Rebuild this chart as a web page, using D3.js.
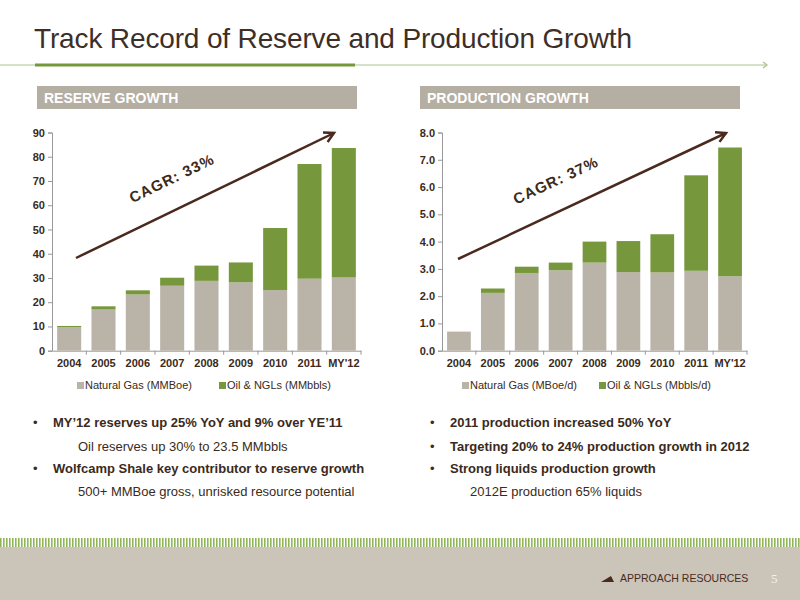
<!DOCTYPE html><html><head><meta charset="utf-8"><script src="https://cdn.jsdelivr.net/npm/d3@7"></script>
<style>body{margin:0}svg{font-family:"Liberation Sans",Arial,sans-serif}</style></head><body><svg id="s" width="800" height="600"></svg>
<script>
const years=["2004","2005","2006","2007","2008","2009","2010","2011","MY'12"];
const resGas=[9.7,17,23.2,26.8,28.8,28.2,25,29.7,30.2];
const resOil=[0.5,1.3,1.7,3.3,6.3,8.2,25.6,47.3,53.4];
const prodGas=[0.7,2.12,2.85,2.95,3.23,2.88,2.87,2.93,2.73];
const prodOil=[0,0.16,0.23,0.28,0.77,1.14,1.4,3.5,4.72];
const resTicks=[0,10,20,30,40,50,60,70,80,90];
const prodTicks=[0,1,2,3,4,5,6,7,8];
const svg=d3.select("#s");
const GAS="#bab3a8",OIL="#77973c",TXT="#3a2a20";
svg.append("rect").attr("width",800).attr("height",600).attr("fill","#fff");
svg.append("text").attr("x",34).attr("y",48).attr("font-size",28).attr("fill","#3d2f28").attr("textLength",598).text("Track Record of Reserve and Production Growth");
svg.append("line").attr("x1",0).attr("x2",766).attr("y1",65).attr("y2",65).attr("stroke","#a9c48a").attr("stroke-width",1);
svg.append("line").attr("x1",35).attr("x2",355).attr("y1",65).attr("y2",65).attr("stroke","#77973c").attr("stroke-width",3);
svg.append("path").attr("d","M763,62L767,65L763,68").attr("fill","none").attr("stroke","#a9c48a").attr("stroke-width",1.2);
[[37,"RESERVE GROWTH"],[420,"PRODUCTION GROWTH"]].forEach(([x,t])=>{
 svg.append("rect").attr("x",x).attr("y",86).attr("width",320).attr("height",23).attr("fill","#b5aea3");
 svg.append("text").attr("x",x+7).attr("y",103).attr("fill","#fff").attr("font-weight","bold").attr("font-size",14).text(t);
});
function chart(x0,x1,max,ticks,fmt,gas,oil,legs,arrow,cagr){
 const y=d3.scaleLinear().domain([0,max]).range([350.7,132.5]);
 const x=d3.scaleBand().domain(years).range([x0,x1]).paddingInner(0.3).paddingOuter(0.15);
 const g=svg.append("g");
 const ya=g.append("g").attr("transform",`translate(${x0},0)`).call(d3.axisLeft(y).tickValues(ticks).tickFormat(fmt).tickSize(4));
 const xa=g.append("g").attr("transform","translate(0,350.7)").call(d3.axisBottom(x).tickSize(0).tickPadding(9));
 [ya,xa].forEach(a=>{a.selectAll("path,line").attr("stroke","#999");a.selectAll("text").attr("font-size",11).attr("font-weight","bold").attr("fill",TXT).attr("font-family","Liberation Sans,Arial")});
 xa.selectAll(".tick").append("line").attr("x1",x.step()/2).attr("x2",x.step()/2).attr("y2",4).attr("stroke","#999");
 g.selectAll(".g").data(years).join("rect").attr("x",d=>x(d)).attr("width",x.bandwidth()).attr("y",(d,i)=>y(gas[i])).attr("height",(d,i)=>y(0)-y(gas[i])).attr("fill",GAS);
 g.selectAll(".o").data(years).join("rect").attr("x",d=>x(d)).attr("width",x.bandwidth()).attr("y",(d,i)=>y(gas[i]+oil[i])).attr("height",(d,i)=>y(gas[i])-y(gas[i]+oil[i])).attr("fill",OIL);
 const [ax1,ay1,ax2,ay2]=arrow;
 g.append("line").attr("x1",ax1).attr("y1",ay1).attr("x2",ax2).attr("y2",ay2).attr("stroke","#4a2a1e").attr("stroke-width",2.5);
 const ang=Math.atan2(ay2-ay1,ax2-ax1);
 const p=a=>[ax2-11*Math.cos(ang+a),ay2-11*Math.sin(ang+a)];
 g.append("path").attr("d",`M${p(0.5)}L${ax2},${ay2}L${p(-0.5)}`).attr("fill","none").attr("stroke","#4a2a1e").attr("stroke-width",2.5);
 g.append("text").attr("transform",`translate(${cagr[0]},${cagr[1]}) rotate(${ang*180/Math.PI})`).attr("text-anchor","middle").attr("font-size",15).attr("font-weight","bold").attr("fill","#3a2a20").attr("letter-spacing",1).text(cagr[2]);
 legs.forEach(([lx,t],i)=>{
  g.append("rect").attr("x",lx).attr("y",382).attr("width",7).attr("height",7).attr("fill",i?OIL:GAS);
  g.append("text").attr("x",lx+8).attr("y",389).attr("font-size",11).attr("fill",TXT).text(t);
 });
}
chart(52,361,90,resTicks,d3.format("d"),resGas,resOil,[[77,"Natural Gas (MMBoe)"],[219,"Oil & NGLs (MMbbls)"]],[76,258,334,133],[174,183,"CAGR: 33%"]);
chart(442,747,8,prodTicks,d3.format(".1f"),prodGas,prodOil,[[462,"Natural Gas (MBoe/d)"],[599,"Oil & NGLs (Mbbls/d)"]],[458,259,726,133],[558,185,"CAGR: 37%"]);
const bl=[[33,427,true,"MY’12 reserves up 25% YoY and 9% over YE’11"],[78,451,false,"Oil reserves up 30% to 23.5 MMbbls"],[33,473,true,"Wolfcamp Shale key contributor to reserve growth"],[78,496,false,"500+ MMBoe gross, unrisked resource potential"],
[430,427,true,"2011 production increased 50% YoY"],[430,451,true,"Targeting 20% to 24% production growth in 2012"],[430,473,true,"Strong liquids production growth"],[470,496,false,"2012E production 65% liquids"]];
bl.forEach(([x,y,b,t])=>{
 if(b)svg.append("text").attr("x",x).attr("y",y).attr("font-size",13).attr("fill",TXT).text("•");
 svg.append("text").attr("x",b?x+20:x).attr("y",y).attr("font-size",13).attr("font-weight",b?"bold":"normal").attr("fill",TXT).text(t);
});
svg.append("rect").attr("x",0).attr("y",547).attr("width",800).attr("height",53).attr("fill","#cbc4b9");
const st=svg.append("g");
d3.range(0,800,3).forEach(i=>st.append("rect").attr("x",i).attr("y",538).attr("width",1.6).attr("height",9).attr("fill","#8fb55a"));
svg.append("path").attr("d","M601,582L611,576L614,582Z").attr("fill","#4a2a1e");
svg.append("text").attr("x",620).attr("y",582).attr("font-size",10.5).attr("fill","#4a2a1e").text("APPROACH RESOURCES");
svg.append("text").attr("x",771).attr("y",583).attr("font-size",13).attr("fill","#f3f0ea").attr("font-family","Liberation Serif").text("5");
</script></body></html>
